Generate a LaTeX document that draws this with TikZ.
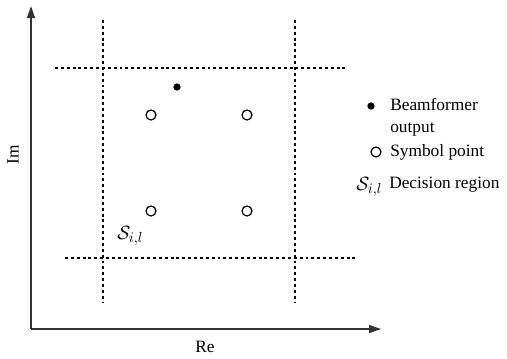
\documentclass[tikz,border=0pt]{standalone}
\usepackage{fontspec}
\setmainfont{Liberation Serif}
\usepackage{amsmath}
\usetikzlibrary{arrows.meta}
\begin{document}
\begin{tikzpicture}[x=0.75pt,y=-0.75pt,
  axis/.style={line width=0.9pt,draw=black!80,-{Triangle[length=9pt,width=6pt]}},
  grid/.style={line width=1.1pt,dash pattern=on 2.2pt off 2.2pt},
  sym/.style={circle,draw,line width=0.9pt,minimum size=7.5pt,inner sep=0pt},
  bf/.style={circle,fill,minimum size=5.5pt,inner sep=0pt},
  lbl/.style={font=\fontsize{13pt}{16.5pt}\selectfont,inner sep=0pt},
  slbl/.style={font=\fontsize{15.5pt}{18pt}\selectfont,inner sep=0pt}]
\useasboundingbox (0,0) rectangle (507,358);
% axes
\coordinate (O) at (31,329);
\coordinate (Ytip) at (31,6);
\coordinate (Xtip) at (381,329);
\draw[axis] (O) -- (Ytip);
\draw[axis] (O) -- (Xtip);
\node[lbl,rotate=90] (im) at (13,155) {Im};
\node[lbl] (re) at (205,347) {Re};
% decision boundaries
\coordinate (v1a) at (103,20); \coordinate (v1b) at (103,302);
\coordinate (v2a) at (295,20); \coordinate (v2b) at (295,302);
\coordinate (h1a) at (55,68); \coordinate (h1b) at (347,68);
\coordinate (h2a) at (65,258); \coordinate (h2b) at (357,258);
\draw[grid] (v1a) -- (v1b);
\draw[grid] (v2a) -- (v2b);
\draw[grid] (h1a) -- (h1b);
\draw[grid] (h2a) -- (h2b);
% symbols
\node[sym] (s1) at (151,115) {};
\node[sym] (s2) at (247,115) {};
\node[sym] (s3) at (151,211) {};
\node[sym] (s4) at (247,211) {};
\node[bf] (b) at (177,87) {};
\node[slbl,anchor=west] (sil) at (117,236) {$\mathcal{S}_{i,l}$};
% legend
\node[bf] (lb) at (371,106) {};
\node[lbl,anchor=west,align=left] (lbt) at (390,117) {Beamformer\\output};
\node[sym] (ls) at (376,152) {};
\node[lbl,anchor=west] (lst) at (390,152) {Symbol point};
\node[slbl,anchor=west] (lsi) at (356,187) {$\mathcal{S}_{i,l}$};
\node[lbl,anchor=west] (lsit) at (389,185) {Decision region};
\end{tikzpicture}
\end{document}
